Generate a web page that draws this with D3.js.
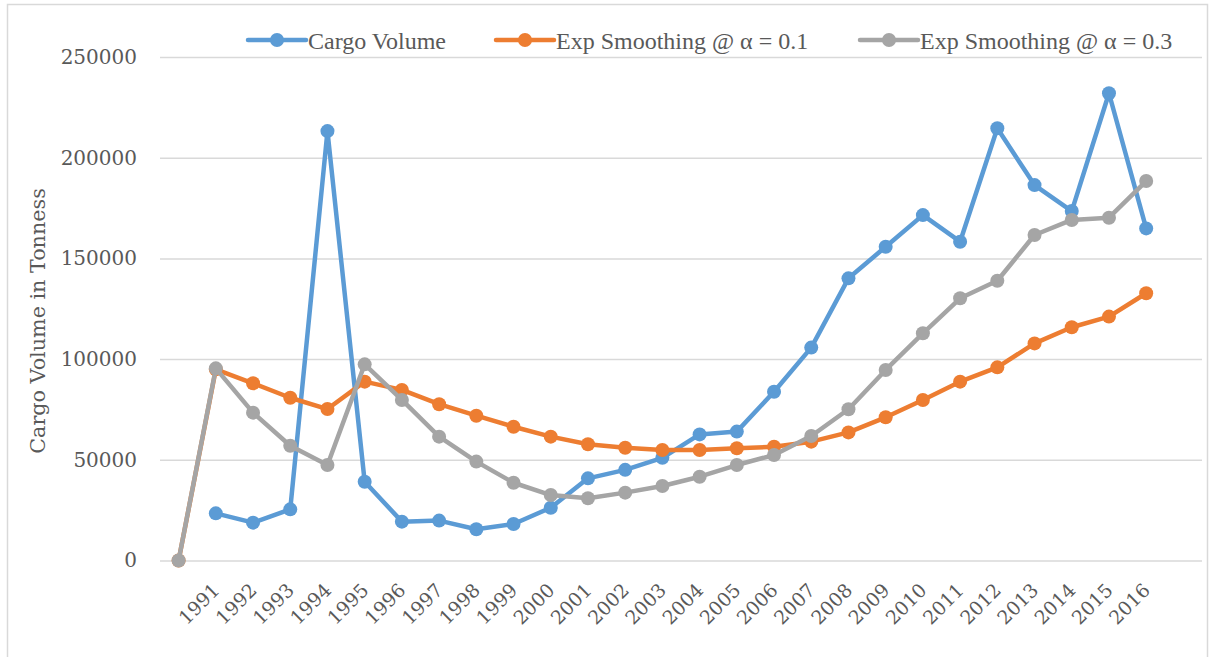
<!DOCTYPE html>
<html>
<head>
<meta charset="utf-8">
<script src="https://cdn.jsdelivr.net/npm/d3@7"></script>
<style>
  html, body { margin: 0; padding: 0; background: #fff; }
  svg { display: block; }
</style>
</head>
<body>
<svg id="chart" width="1210" height="657"></svg>
<script>
// ---------- data ----------
const categories = ["", "1991", "1992", "1993", "1994", "1995", "1996", "1997", "1998", "1999", "2000",
  "2001", "2002", "2003", "2004", "2005", "2006", "2007", "2008", "2009", "2010",
  "2011", "2012", "2013", "2014", "2015", "2016", ""];

const cargoVolume = [null, 23400, 18800, 25400, 213200, 39100, 19300, 19800, 15500, 18100, 26200,
  40800, 45000, 51000, 62600, 64000, 83800, 105700, 140100, 155800, 171500,
  158300, 214600, 186400, 173500, 232000, 164900, null];

const expSmooth01 = [0, 94900, 88000, 80800, 75200, 88800, 84700, 77600, 71900, 66400, 61500,
  57700, 56000, 54900, 54900, 55700, 56500, 59000, 63600, 71100, 79700,
  88800, 95900, 107800, 115800, 121100, 132700, null];

const expSmooth03 = [0, 95400, 73400, 57000, 47400, 97400, 79700, 61500, 49100, 38600, 32500,
  30900, 33700, 37000, 41600, 47400, 52400, 61800, 75100, 94600, 112800,
  130200, 138900, 161600, 169100, 170200, 188400, null];

const seriesNames = ["Cargo Volume", "Exp Smoothing @ \u03b1 = 0.1", "Exp Smoothing @ \u03b1 = 0.3"];
const seriesColors = ["#5B9BD5", "#ED7D31", "#A5A5A5"];
const yTicks = [0, 50000, 100000, 150000, 200000, 250000];
const yTitle = "Cargo Volume in Tonness";

// ---------- layout ----------
const svg = d3.select("#chart");
const plot = { left: 160, right: 1202, top: 57, bottom: 560.5 };
const legendX = [248, 496, 860];
const legendY = 40;

// chart border
svg.append("rect")
  .attr("x", 7.5).attr("y", 4.5).attr("width", 1200).attr("height", 670)
  .attr("fill", "none").attr("stroke", "#D9D9D9").attr("stroke-width", 1.5);

const x = d3.scaleBand().domain(d3.range(categories.length)).range([plot.left, plot.right]);
const cx = i => x(i) + x.bandwidth() / 2;
const y = d3.scaleLinear().domain([0, 250000]).range([plot.bottom, plot.top]);

// gridlines + y labels
const yAxis = svg.append("g")
  .attr("transform", `translate(${plot.left},0)`)
  .call(d3.axisLeft(y).tickValues(yTicks).tickSize(-(plot.right - plot.left)).tickPadding(23).tickFormat(d3.format("d")));
yAxis.select(".domain").remove();
yAxis.selectAll(".tick line").attr("stroke", "#D9D9D9").attr("stroke-width", 1.5);
yAxis.selectAll(".tick text")
  .attr("fill", "#595959")
  .style("font-family", "'DejaVu Serif', serif")
  .style("font-size", "20px");

// x labels
const xAxis = svg.append("g")
  .attr("transform", `translate(0,${plot.bottom})`)
  .call(d3.axisBottom(x).tickSize(0).tickFormat(i => categories[i]));
xAxis.select(".domain").remove();
xAxis.selectAll(".tick text")
  .attr("fill", "#595959")
  .style("font-family", "'DejaVu Serif', serif")
  .style("font-size", "19px")
  .attr("text-anchor", "end")
  .attr("y", 0).attr("dy", 0)
  .attr("transform", "translate(5,31) rotate(-45)");

// y title
svg.append("text")
  .attr("transform", `translate(45, 321) rotate(-90)`)
  .attr("text-anchor", "middle")
  .attr("fill", "#595959")
  .style("font-family", "'DejaVu Serif', serif")
  .style("font-size", "20.7px")
  .text(yTitle);

// series
const allSeries = [cargoVolume, expSmooth01, expSmooth03];
const line = d3.line()
  .defined(d => d.v !== null)
  .x(d => cx(d.i))
  .y(d => y(d.v));

allSeries.forEach((vals, s) => {
  const pts = vals.map((v, i) => ({ i, v }));
  const g = svg.append("g");
  g.append("path")
    .datum(pts)
    .attr("fill", "none")
    .attr("stroke", seriesColors[s])
    .attr("stroke-width", 4.5)
    .attr("stroke-linejoin", "round")
    .attr("stroke-linecap", "round")
    .attr("d", line);
  g.selectAll("circle")
    .data(pts.filter(d => d.v !== null))
    .join("circle")
    .attr("cx", d => cx(d.i))
    .attr("cy", d => y(d.v))
    .attr("r", 7)
    .attr("fill", seriesColors[s]);
});

// legend
seriesNames.forEach((name, s) => {
  const g = svg.append("g").attr("transform", `translate(${legendX[s]},${legendY})`);
  g.append("line").attr("x1", 0).attr("x2", 58).attr("y1", 0).attr("y2", 0)
    .attr("stroke", seriesColors[s]).attr("stroke-width", 4.5).attr("stroke-linecap", "round");
  g.append("circle").attr("cx", 29).attr("cy", 0).attr("r", 7).attr("fill", seriesColors[s]);
  g.append("text").attr("x", 60).attr("y", 8.5)
    .attr("fill", "#595959")
    .style("font-family", "'Liberation Serif', serif")
    .style("font-size", "24px")
    .text(name);
});
</script>
</body>
</html>
